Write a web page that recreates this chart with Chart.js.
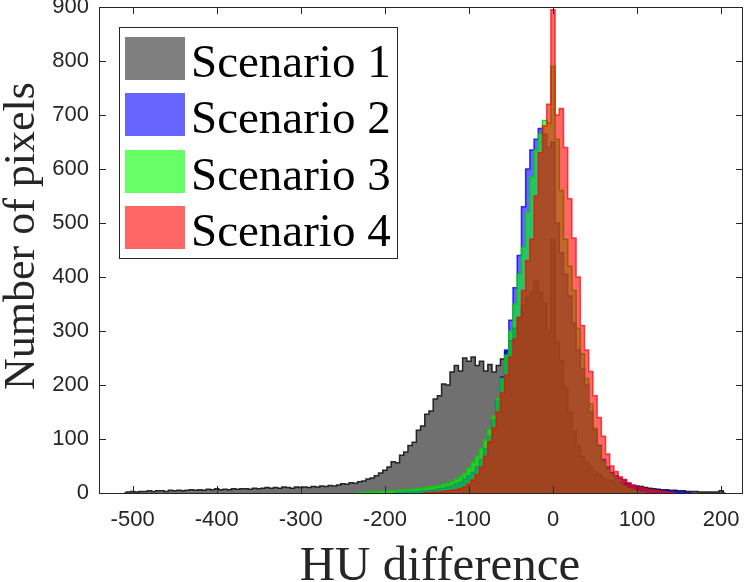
<!DOCTYPE html>
<html>
<head>
<meta charset="utf-8">
<script src="https://cdn.jsdelivr.net/npm/chart.js@4.4.0/dist/chart.umd.min.js"></script>
<style>
body { margin: 0; background: #fff; }
</style>
</head>
<body>
<canvas id="hist_chart" width="750" height="582"></canvas>
<script>
// 축 범위, 눈금
var xMin = -540, xMax = 226;
var xTicks = [-500, -400, -300, -200, -100, 0, 100, 200];
var yTicks = [0, 100, 200, 300, 400, 500, 600, 700, 800, 900];
var binWidth = 5;

var seriesNames = ['Scenario 1', 'Scenario 2', 'Scenario 3', 'Scenario 4'];

// Scenario 1 : -505 ~ 200
var s1Start = -505;
var s1 = [2,3,2,3,3,4,3,4,4,3,5,4,5,4,5,6,5,6,5,7,6,8,
	6,7,6,8,7,8,8,7,9,8,9,10,9,10,9,11,10,9,11,10,
	11,10,12,11,13,12,14,13,15,17,16,19,18,21,22,26,28,32,37,42,
	48,58,56,70,76,88,94,116,124,146,152,174,180,202,200,224,236,226,250,244,
	252,236,244,226,238,224,236,248,262,282,305,325,348,362,372,392,372,352,300,470,
	280,245,195,150,115,88,68,56,47,40,34,28,24,22,20,19,18,16,14,13,
	12,10,9,8,7,6,6,5,5,4,4,3,3,3,2,2,2,2,2,4];

// Scenario 2 : -185 ~ 160
var s2Start = -185;
var s2 = [1,1,2,2,3,3,4,4,5,6,
	8,9,11,13,16,20,26,32,38,48,
	62,82,105,135,170,215,265,320,380,440,
	530,600,635,655,675,665,640,650,500,445,
	405,365,315,265,230,200,150,117,88,62,
	48,38,32,27,24,18,14,11,9,8,
	6,5,5,4,4,3,3,2,2,1];

// Scenario 3 : -230 ~ 105
var s3Start = -230;
var s3 = [1,1,2,2,2,3,3,3,4,4,
	5,5,6,7,8,9,10,11,13,14,
	16,18,21,25,30,37,46,56,68,82,
	98,118,142,175,212,255,300,350,405,455,
	520,585,635,665,690,685,790,655,560,470,
	420,375,305,258,212,165,120,86,58,42,
	32,25,18,12,8,5,3,1];

// Scenario 4 : -150 ~ 140
var s4Start = -150;
var s4 = [1,1,2,2,3,4,5,6,8,11,
	16,24,34,48,68,95,120,150,185,218,
	252,285,325,375,430,470,550,630,680,720,
	895,700,712,640,545,472,400,310,265,225,
	180,140,105,72,50,40,30,25,19,15,
	12,10,8,6,5,4,3,2,1];

var fills = ['rgba(0,0,0,0.56)', 'rgba(0,0,255,0.6)', 'rgba(0,255,0,0.6)', 'rgba(255,0,0,0.6)'];
var swatches = ['rgba(0,0,0,0.5)', 'rgba(0,0,255,0.6)', 'rgba(0,255,0,0.6)', 'rgba(255,0,0,0.6)'];
var edges = ['rgba(20,20,20,0.9)', 'rgba(0,0,255,0.8)', 'rgba(0,210,0,0.85)', 'rgba(255,0,0,0.7)'];

function toPoints(start, counts) {
	var pts = [{x: start - binWidth, y: 0}];
	for (var i = 0; i < counts.length; i++) {
		pts.push({x: start + i * binWidth, y: counts[i]});
	}
	pts.push({x: start + counts.length * binWidth, y: 0});
	return pts;
}

function makeSet(idx, start, counts) {
	return {
		label: seriesNames[idx],
		data: toPoints(start, counts),
		stepped: 'middle',
		fill: 'origin',
		backgroundColor: fills[idx],
		borderColor: edges[idx],
		borderWidth: 1.5,
		pointRadius: 0,
		order: 4 - idx
	};
}

// 테두리, 안쪽 눈금, 제목, 범례
var framePlugin = {
	id: 'frame',
	afterDraw: function (chart) {
		var ctx = chart.ctx;
		var a = chart.chartArea;
		var sx = chart.scales.x, sy = chart.scales.y;
		ctx.save();
		ctx.strokeStyle = '#262626';
		ctx.lineWidth = 1;
		ctx.strokeRect(a.left + 0.5, a.top + 0.5, a.right - a.left - 1, a.bottom - a.top);
		ctx.beginPath();
		xTicks.forEach(function (v) {
			var px = Math.round(sx.getPixelForValue(v)) + 0.5;
			ctx.moveTo(px, a.bottom); ctx.lineTo(px, a.bottom - 7);
			ctx.moveTo(px, a.top); ctx.lineTo(px, a.top + 7);
		});
		yTicks.forEach(function (v) {
			var py = Math.round(sy.getPixelForValue(v)) + 0.5;
			ctx.moveTo(a.left, py); ctx.lineTo(a.left + 7, py);
			ctx.moveTo(a.right, py); ctx.lineTo(a.right - 7, py);
		});
		ctx.stroke();

		// 축 제목
		ctx.fillStyle = '#262626';
		ctx.font = '49px "Liberation Serif"';
		ctx.textAlign = 'center';
		ctx.textBaseline = 'alphabetic';
		ctx.fillText('HU difference', 440, 580);
		ctx.save();
		ctx.translate(34, 236);
		ctx.rotate(-Math.PI / 2);
		ctx.font = '44px "Liberation Serif"';
		ctx.fillText('Number of pixels', 0, 0);
		ctx.restore();

		// 범례
		ctx.fillStyle = '#fff';
		ctx.fillRect(119, 27, 278, 231);
		ctx.strokeStyle = '#262626';
		ctx.strokeRect(119.5, 27.5, 278, 231);
		var rowTop = [37, 93, 150, 206];
		ctx.font = '47px "Liberation Serif"';
		ctx.textAlign = 'left';
		for (var i = 0; i < seriesNames.length; i++) {
			ctx.fillStyle = swatches[i];
			ctx.fillRect(125, rowTop[i], 60, 43);
			ctx.fillStyle = '#000';
			ctx.fillText(seriesNames[i], 191, rowTop[i] + 40);
		}
		ctx.restore();
	}
};

var tickFont = { family: 'Liberation Sans', size: 22 };

new Chart(document.getElementById('hist_chart'), {
	type: 'line',
	data: {
		datasets: [
			makeSet(0, s1Start, s1),
			makeSet(1, s2Start, s2),
			makeSet(2, s3Start, s3),
			makeSet(3, s4Start, s4)
		]
	},
	options: {
		responsive: false,
		animation: false,
		layout: { autoPadding: false, padding: { top: 7, right: 7, left: 0, bottom: 0 } },
		plugins: { legend: { display: false }, tooltip: { enabled: false } },
		scales: {
			x: {
				type: 'linear',
				min: xMin,
				max: xMax,
				border: { display: false },
				grid: { display: false, drawTicks: false },
				afterBuildTicks: function (scale) {
					scale.ticks = xTicks.map(function (v) { return {value: v}; });
				},
				ticks: { font: tickFont, color: '#262626', padding: 14, maxRotation: 0 },
				afterFit: function (scale) {
					scale.height = 89;
					scale.paddingLeft = 0; scale.paddingRight = 0;
				}
			},
			y: {
				min: 0,
				max: 900,
				border: { display: false },
				grid: { display: false, drawTicks: false },
				afterBuildTicks: function (scale) {
					scale.ticks = yTicks.map(function (v) { return {value: v}; });
				},
				ticks: { font: tickFont, color: '#262626', padding: 10 },
				afterFit: function (scale) {
					scale.width = 99;
					scale.paddingTop = 0; scale.paddingBottom = 0;
				}
			}
		}
	},
	plugins: [framePlugin]
});
</script>
</body>
</html>
